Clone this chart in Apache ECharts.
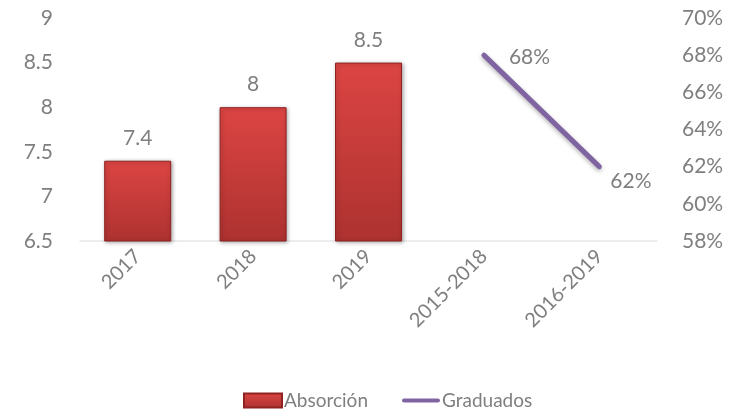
<!DOCTYPE html>
<html>
<head>
<meta charset="utf-8">
<script src="https://cdn.jsdelivr.net/npm/echarts@6/dist/echarts.min.js"></script>
<style>
  html, body { margin: 0; padding: 0; background: #fff; }
  #chart { width: 745px; height: 418px; }
</style>
</head>
<body>
<div id="chart"></div>
<script>
const categories = ['2017', '2018', '2019', '2015-2018', '2016-2019'];
const absorcion = [7.4, 8, 8.5, null, null];
const graduados = [null, null, null, 68, 62];

const FG = '#7f7f7f';
const FONT = 'Lato';
const FS = 21;

const chart = echarts.init(document.getElementById('chart'));

const option = {
  animation: false,
  textStyle: { fontFamily: FONT },
  grid: { left: 80, right: 88, top: 18, bottom: 177 },
  legend: {
    bottom: 3,
    left: 238,
    itemGap: 34,
    itemWidth: 38,
    itemHeight: 14,
    textStyle: { color: FG, fontSize: 19, fontFamily: FONT, padding: [0, 0, 0, -3] },
    data: [
      { name: 'Absorción', icon: 'rect' },
      {
        name: 'Graduados',
        icon: 'path://M3,0 L51,0 A3,3 0 0 1 51,6 L3,6 A3,3 0 0 1 3,0 Z',
        itemStyle: { color: '#8064a2', opacity: 1 }
      }
    ]
  },
  xAxis: {
    type: 'category',
    data: categories,
    axisTick: { show: false },
    axisLine: { lineStyle: { color: '#e8e8e8', width: 1.5 } },
    axisLabel: { color: FG, fontSize: 20, rotate: 45, margin: 12, interval: 0 }
  },
  yAxis: [
    {
      type: 'value',
      min: 6.5,
      max: 9,
      interval: 0.5,
      splitLine: { show: false },
      axisLine: { show: false },
      axisLabel: { color: FG, fontSize: FS, margin: 27 }
    },
    {
      type: 'value',
      min: 58,
      max: 70,
      interval: 2,
      splitLine: { show: false },
      axisLine: { show: false },
      axisLabel: { color: FG, fontSize: FS, margin: 25, formatter: '{value}%' }
    }
  ],
  series: [
    {
      name: 'Absorción',
      type: 'bar',
      barWidth: 67,
      data: absorcion,
      itemStyle: {
        color: new echarts.graphic.LinearGradient(0, 0, 0, 1, [
          { offset: 0, color: '#dc4543' },
          { offset: 1, color: '#ad3230' }
        ]),
        borderColor: '#8f2322',
        borderWidth: 1,
        shadowColor: 'rgba(0,0,0,0.35)',
        shadowBlur: 4,
        shadowOffsetX: 1,
        shadowOffsetY: 1
      },
      label: {
        show: true,
        position: 'top',
        distance: 12,
        color: FG,
        fontSize: FS
      }
    },
    {
      name: 'Graduados',
      type: 'line',
      yAxisIndex: 1,
      data: graduados,
      symbol: 'circle',
      symbolSize: 2,
      showSymbol: true,
      itemStyle: { color: '#8064a2' },
      color: '#8064a2',
      lineStyle: {
        width: 5,
        color: '#8064a2',
        cap: 'round',
        shadowColor: 'rgba(0,0,0,0.3)',
        shadowBlur: 4,
        shadowOffsetY: 2
      },
      label: {
        show: true,
        position: 'right',
        distance: 24,
        color: FG,
        fontSize: FS,
        formatter: (p) => p.value + '%'
      },
      labelLayout: (params) => {
        if (params.dataIndex === 4) {
          return { dx: -14, dy: 15 };
        }
        return { dx: 0, dy: 2 };
      }
    }
  ]
};

chart.setOption(option);
</script>
</body>
</html>
